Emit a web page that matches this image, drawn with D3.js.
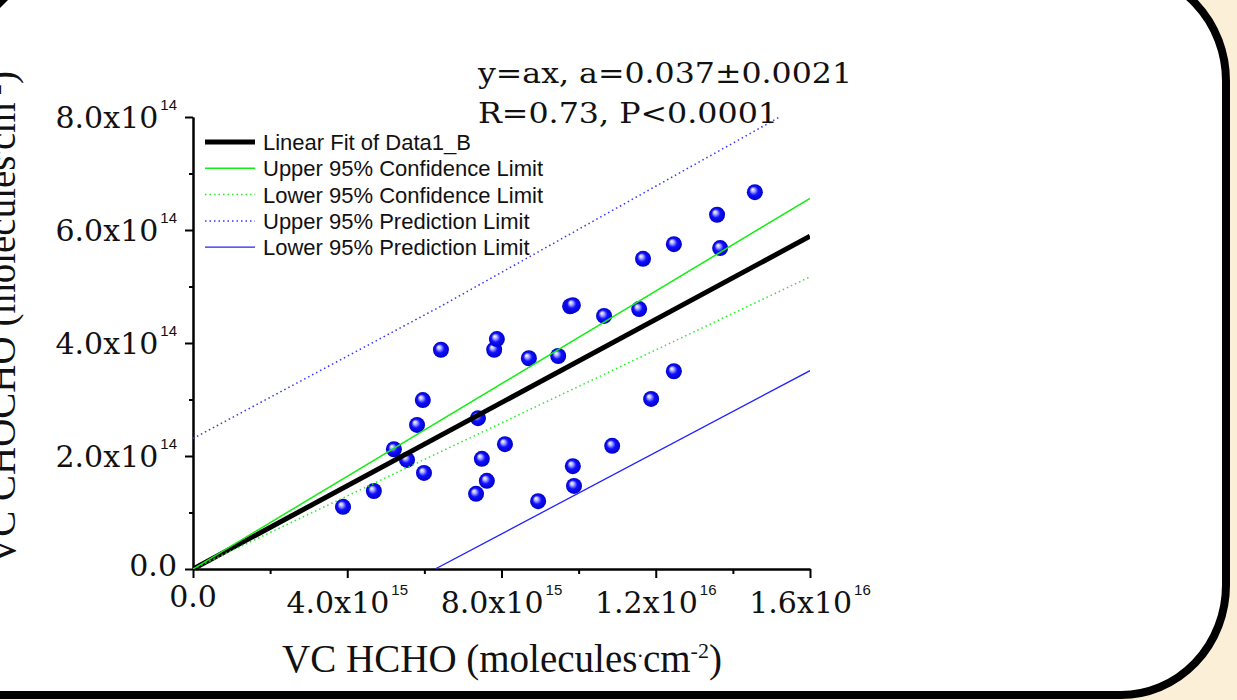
<!DOCTYPE html>
<html>
<head>
<meta charset="utf-8">
<script src="https://cdn.jsdelivr.net/npm/d3@7"></script>
<style>
  body { margin: 0; background: #fcefd8; }
  svg { display: block; }
</style>
</head>
<body>
<div id="chart-container"></div>
<script>
// VC HCHO (x) tegen VC CHOCHO (y), molecules cm-2
const hcho = [3.89e15, 4.69e15, 5.21e15, 5.55e15, 5.99e15, 5.81e15, 5.96e15, 6.43e15,
  7.39e15, 7.49e15, 7.62e15, 7.34e15, 7.81e15, 7.88e15, 8.09e15, 8.71e15,
  9.47e15, 9.78e15, 9.85e15, 10.66e15, 11.57e15, 11.67e15, 12.47e15, 13.59e15,
  13.67e15, 14.57e15, 8.95e15, 9.85e15, 9.88e15, 10.87e15, 11.88e15, 12.47e15]
const chocho = [1.10e14, 1.38e14, 2.12e14, 1.93e14, 1.70e14, 2.55e14, 2.99e14, 3.88e14,
  2.67e14, 1.95e14, 1.56e14, 1.33e14, 3.88e14, 4.07e14, 2.21e14, 3.73e14,
  3.77e14, 4.65e14, 4.67e14, 4.48e14, 4.60e14, 5.49e14, 5.75e14, 6.27e14,
  5.68e14, 6.67e14, 1.20e14, 1.82e14, 1.47e14, 2.18e14, 3.01e14, 3.50e14]

const fitLine = [[0, 0], [1.6e16, 5.89e14]]
const upperConf = [[0, 0], [1.6e16, 6.56e14]]
const lowerConf = [[0, 0], [1.6e16, 5.17e14]]
const upperPred = [[0, 2.31e14], [6.4e15, 4.64e14], [1.6e16, 8.3e14]]
const lowerPred = [[6.28e15, 0], [1.6e16, 3.51e14]]

// ticks
const xMajor = [0, 4e15, 8e15, 1.2e16, 1.6e16]
const xMinor = [2e15, 6e15, 1e16, 1.4e16]
const xTickMain = ['0.0', '4.0x10', '8.0x10', '1.2x10', '1.6x10']
const xTickExp = ['', '15', '15', '16', '16']
const yMajor = [0, 2e14, 4e14, 6e14, 8e14]
const yMinor = [1e14, 3e14, 5e14, 7e14]
const yTickMain = ['0.0', '2.0x10', '4.0x10', '6.0x10', '8.0x10']
const yTickExp = ['', '14', '14', '14', '14']

const legendLabels = ['Linear Fit of Data1_B', 'Upper 95% Confidence Limit', 'Lower 95% Confidence Limit',
  'Upper 95% Prediction Limit', 'Lower 95% Prediction Limit']
const fitText = ['y=ax, a=0.037\u00b10.0021', 'R=0.73, P<0.0001']

// stijl per lijn
const lineStyles = [
  { stroke: '#000', width: 5, dash: null },
  { stroke: '#11ee11', width: 1.5, dash: null },
  { stroke: '#22ee22', width: 1.5, dash: '1.5,3' },
  { stroke: '#3333ff', width: 1.5, dash: '1.5,3' },
  { stroke: '#2222ff', width: 1.3, dash: null }
]

const width = 1237
const height = 700
const plot = { left: 193, right: 810, top: 117, bottom: 569 }

const svg = d3.select('#chart-container')
  .append('svg')
  .attr('width', width)
  .attr('height', height)

const defs = svg.append('defs')
const grad = defs.append('radialGradient')
  .attr('id', 'ball')
  .attr('cx', '50%').attr('cy', '50%').attr('r', '50%')
  .attr('fx', '35%').attr('fy', '32%')
grad.append('stop').attr('offset', '0%').attr('stop-color', '#ffffff')
grad.append('stop').attr('offset', '22%').attr('stop-color', '#b8b8ff')
grad.append('stop').attr('offset', '55%').attr('stop-color', '#1010ff')
grad.append('stop').attr('offset', '100%').attr('stop-color', '#0000c8')

defs.append('clipPath').attr('id', 'plot-clip')
  .append('rect')
  .attr('x', plot.left).attr('y', plot.top)
  .attr('width', plot.right - plot.left).attr('height', plot.bottom - plot.top)

// achtergrond en paneel met afgeronde hoeken
svg.append('rect').attr('width', width).attr('height', height).attr('fill', '#fcefd8')
svg.append('rect')
  .attr('x', -200).attr('y', -29)
  .attr('width', 1426).attr('height', 724)
  .attr('rx', 105).attr('ry', 110)
  .attr('fill', '#fff')
  .attr('stroke', '#000')
  .attr('stroke-width', 8)
// stukje hoek van het vorige paneel linksboven
svg.append('path').attr('d', 'M0,0 L8,0 L0,8 Z').attr('fill', '#000')

const xScale = d3.scaleLinear().domain([0, 1.6e16]).range([plot.left, plot.right])
const yScale = d3.scaleLinear().domain([0, 8e14]).range([plot.bottom, plot.top])

const styleAxis = g => {
  g.selectAll('path, line').attr('stroke', '#000').attr('stroke-width', 2)
  g.selectAll('text').remove()
}

// x as
svg.append('g')
  .attr('transform', `translate(0, ${plot.bottom})`)
  .call(d3.axisBottom(xScale).tickValues(xMajor).tickSize(9).tickSizeOuter(0).tickFormat(''))
  .call(styleAxis)
svg.append('g')
  .attr('transform', `translate(0, ${plot.bottom})`)
  .call(d3.axisBottom(xScale).tickValues(xMinor).tickSize(5).tickSizeOuter(0).tickFormat(''))
  .call(styleAxis)

// y as
svg.append('g')
  .attr('transform', `translate(${plot.left}, 0)`)
  .call(d3.axisLeft(yScale).tickValues(yMajor).tickSize(8).tickSizeOuter(0).tickFormat(''))
  .call(styleAxis)
svg.append('g')
  .attr('transform', `translate(${plot.left}, 0)`)
  .call(d3.axisLeft(yScale).tickValues(yMinor).tickSize(4).tickSizeOuter(0).tickFormat(''))
  .call(styleAxis)

// tick labels met superscript
const tickLabel = (sel, main, exp) => {
  sel.append('tspan').text(main)
  if (exp) {
    sel.append('tspan')
      .attr('dx', 2).attr('dy', -18)
      .attr('font-family', 'Liberation Sans, Arial, sans-serif')
      .attr('font-size', 15)
      .text(exp)
  }
}

xMajor.forEach((v, i) => {
  const t = svg.append('text')
    .attr('x', xScale(v))
    .attr('y', plot.bottom + (xTickExp[i] ? 44 : 38))
    .attr('text-anchor', 'middle')
    .attr('font-family', 'DejaVu Serif, serif')
    .attr('font-size', 30)
    .attr('fill', '#111')
  tickLabel(t, xTickMain[i], xTickExp[i])
})

yMajor.forEach((v, i) => {
  const t = svg.append('text')
    .attr('x', 177)
    .attr('y', yScale(v) + (yTickExp[i] ? 11 : 7))
    .attr('text-anchor', 'end')
    .attr('font-family', 'DejaVu Serif, serif')
    .attr('font-size', 30)
    .attr('fill', '#111')
  tickLabel(t, yTickMain[i], yTickExp[i])
})

// as titels
const axisTitle = (sel, name) => {
  sel.append('tspan').text(name + ' (molecules')
  sel.append('tspan').attr('dy', -15).attr('font-size', 22).text('.')
  sel.append('tspan').attr('dy', 15).text('cm')
  sel.append('tspan').attr('dy', -14).attr('font-size', 22).text('-2')
  sel.append('tspan').attr('dy', 14).text(')')
}

const xTitle = svg.append('text')
  .attr('x', 502).attr('y', 672)
  .attr('text-anchor', 'middle')
  .attr('font-family', 'Liberation Serif, Times New Roman, serif')
  .attr('font-size', 39)
  .attr('fill', '#111')
axisTitle(xTitle, 'VC HCHO')

const yTitle = svg.append('text')
  .attr('transform', 'translate(15, 318) rotate(-90)')
  .attr('text-anchor', 'middle')
  .attr('font-family', 'Liberation Serif, Times New Roman, serif')
  .attr('font-size', 39)
  .attr('fill', '#111')
axisTitle(yTitle, 'VC CHOCHO')

// punten
svg.append('g')
  .selectAll('circle')
  .data(hcho.map((x, i) => [x, chocho[i]]))
  .enter()
  .append('circle')
  .attr('cx', d => xScale(d[0]))
  .attr('cy', d => yScale(d[1]))
  .attr('r', 8)
  .attr('fill', 'url(#ball)')

// lijnen over de punten heen
const line = d3.line().x(d => xScale(d[0])).y(d => yScale(d[1]))
const lines = [fitLine, upperConf, lowerConf, upperPred, lowerPred]
svg.append('g')
  .attr('clip-path', 'url(#plot-clip)')
  .selectAll('path')
  .data(lines)
  .enter()
  .append('path')
  .attr('d', line)
  .attr('fill', 'none')
  .attr('stroke', (d, i) => lineStyles[i].stroke)
  .attr('stroke-width', (d, i) => lineStyles[i].width)
  .attr('stroke-dasharray', (d, i) => lineStyles[i].dash)

// legenda
const legend = svg.append('g').attr('transform', 'translate(205, 142)')
legendLabels.forEach((label, i) => {
  const row = legend.append('g').attr('transform', `translate(0, ${i * 26.3})`)
  row.append('line')
    .attr('x1', 0).attr('x2', 50)
    .attr('stroke', lineStyles[i].stroke)
    .attr('stroke-width', lineStyles[i].width)
    .attr('stroke-dasharray', lineStyles[i].dash)
  row.append('text')
    .attr('x', 58).attr('y', 8)
    .attr('font-family', 'Liberation Sans, Arial, sans-serif')
    .attr('font-size', 22)
    .attr('fill', '#111')
    .text(label)
})

// fit resultaat
svg.append('text')
  .attr('x', 478).attr('y', 83)
  .attr('font-family', 'DejaVu Serif, serif')
  .attr('font-size', 28)
  .attr('textLength', 374)
  .attr('lengthAdjust', 'spacingAndGlyphs')
  .attr('fill', '#111')
  .text(fitText[0])
svg.append('text')
  .attr('x', 478).attr('y', 123)
  .attr('font-family', 'DejaVu Serif, serif')
  .attr('font-size', 28)
  .attr('textLength', 300)
  .attr('lengthAdjust', 'spacingAndGlyphs')
  .attr('fill', '#111')
  .text(fitText[1])
</script>
</body>
</html>
